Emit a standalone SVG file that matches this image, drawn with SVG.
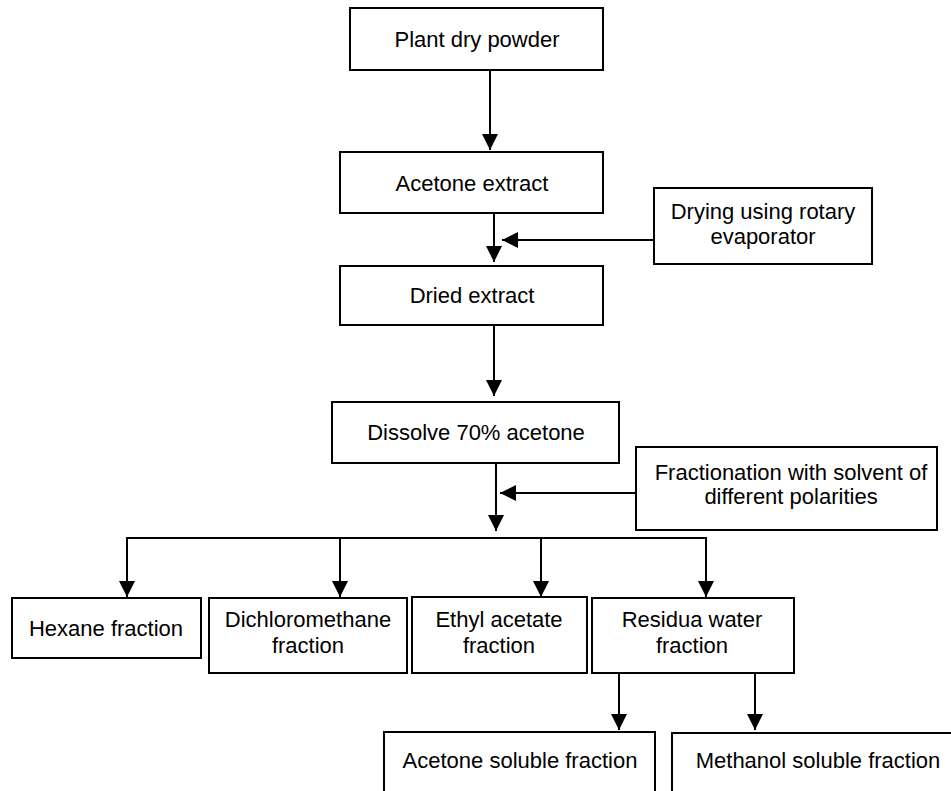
<svg xmlns="http://www.w3.org/2000/svg" width="951" height="791" viewBox="0 0 951 791">
<style>
rect{fill:#fff;stroke:#000;stroke-width:2}
text{font-family:"Liberation Sans",Arial,sans-serif;font-size:22px;fill:#000;text-anchor:middle}
.c line{stroke:#000;stroke-width:2;fill:none}
</style>
<defs>
<marker id="ah" viewBox="0 0 16 16" refX="16" refY="8" markerWidth="16" markerHeight="16" markerUnits="userSpaceOnUse" orient="auto">
<path d="M0,0 L16,8 L0,16 Z" fill="#000"/>
</marker>
</defs>
<rect x="0" y="0" width="951" height="791" style="fill:#fff;stroke:none"/>
<g class="c" id="connectors">
<line x1="490" y1="70" x2="490" y2="150" marker-end="url(#ah)"/>
<line x1="494" y1="213" x2="494" y2="262" marker-end="url(#ah)"/>
<line x1="654" y1="240" x2="502" y2="240" marker-end="url(#ah)"/>
<line x1="494" y1="325" x2="494" y2="396" marker-end="url(#ah)"/>
<line x1="496" y1="463" x2="496" y2="531" marker-end="url(#ah)"/>
<line x1="636" y1="493" x2="500" y2="493" marker-end="url(#ah)"/>
<line x1="126" y1="538" x2="707" y2="538"/>
<line x1="127" y1="537" x2="127" y2="597" marker-end="url(#ah)"/>
<line x1="340" y1="537" x2="340" y2="597" marker-end="url(#ah)"/>
<line x1="541" y1="537" x2="541" y2="597" marker-end="url(#ah)"/>
<line x1="706" y1="537" x2="706" y2="597" marker-end="url(#ah)"/>
<line x1="619" y1="673" x2="619" y2="730" marker-end="url(#ah)"/>
<line x1="755" y1="673" x2="755" y2="730" marker-end="url(#ah)"/>
</g>
<g id="plant"><rect x="350" y="8" width="253" height="62"/><text x="477" y="47">Plant dry powder</text></g>
<g id="acetone"><rect x="340" y="152" width="263" height="61"/><text x="472" y="191">Acetone extract</text></g>
<g id="drying"><rect x="654" y="188" width="218" height="76"/><text x="763" y="219">Drying using rotary</text><text x="763" y="244">evaporator</text></g>
<g id="dried"><rect x="340" y="266" width="263" height="59"/><text x="472" y="303">Dried extract</text></g>
<g id="dissolve"><rect x="332" y="402" width="287" height="61"/><text x="476" y="440">Dissolve 70% acetone</text></g>
<g id="fractionation"><rect x="636" y="447" width="301" height="83"/><text x="791" y="480">Fractionation with solvent of</text><text x="791" y="504">different polarities</text></g>
<g id="hexane"><rect x="12" y="598" width="189" height="60"/><text x="106" y="636">Hexane fraction</text></g>
<g id="dcm"><rect x="209" y="598" width="198" height="75"/><text x="308" y="627">Dichloromethane</text><text x="308" y="653">fraction</text></g>
<g id="ethyl"><rect x="412" y="597" width="175" height="76"/><text x="499" y="627">Ethyl acetate</text><text x="499" y="653">fraction</text></g>
<g id="residua"><rect x="592" y="598" width="202" height="75"/><text x="692" y="627">Residua water</text><text x="692" y="653">fraction</text></g>
<g id="acetsol"><rect x="384" y="732" width="271" height="70"/><text x="520" y="768">Acetone soluble fraction</text></g>
<g id="methsol"><rect x="672" y="733" width="290" height="70"/><text x="818" y="768">Methanol soluble fraction</text></g>
</svg>
